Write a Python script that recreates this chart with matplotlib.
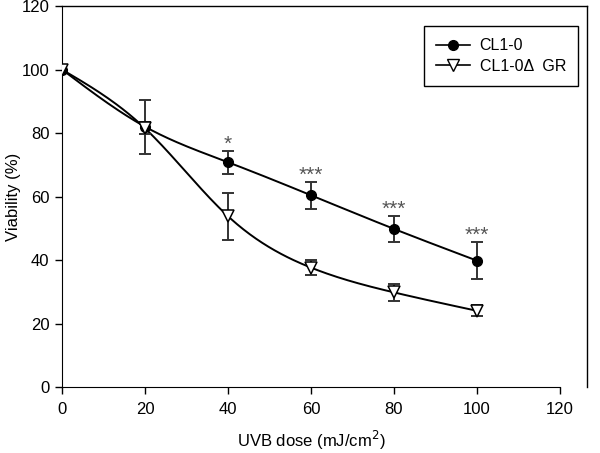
import numpy as np
import matplotlib.pyplot as plt
from matplotlib.lines import Line2D

plt.rcParams['font.family'] = ['Liberation Sans', 'DejaVu Sans']

# data
dose = [0, 20, 40, 60, 80, 100]
cl10 = [100, 82, 70.8, 60.4, 49.8, 39.8]
cl10_err = [0, 8.5, 3.6, 4.2, 4.0, 5.8]
gr = [100, 81.5, 53.8, 37.6, 29.8, 24.0]
gr_err = [0, 1.9, 7.4, 2.4, 2.6, 1.7]
stars = ['', '', '*', '***', '***', '***']


def spline(x, y, n=200):
    # natural cubic spline, only used to draw the smooth connecting line
    x = np.asarray(x, float)
    y = np.asarray(y, float)
    k = len(x)
    h = np.diff(x)
    A = np.zeros((k, k))
    b = np.zeros(k)
    A[0, 0] = A[-1, -1] = 1
    for i in range(1, k - 1):
        A[i, i - 1] = h[i - 1]
        A[i, i] = 2 * (h[i - 1] + h[i])
        A[i, i + 1] = h[i]
        b[i] = 6 * ((y[i + 1] - y[i]) / h[i] - (y[i] - y[i - 1]) / h[i - 1])
    M = np.linalg.solve(A, b)
    xs = np.linspace(x[0], x[-1], n)
    j = np.clip(np.searchsorted(x, xs) - 1, 0, k - 2)
    t0 = x[j + 1] - xs
    t1 = xs - x[j]
    hj = h[j]
    ys = (M[j] * t0**3 + M[j + 1] * t1**3) / (6 * hj) \
        + (y[j] / hj - M[j] * hj / 6) * t0 + (y[j + 1] / hj - M[j + 1] * hj / 6) * t1
    return xs, ys


fig = plt.figure(figsize=(6, 4.53), dpi=100)
ax = fig.add_axes([0.1033, 0.1457, 0.83, 0.841])

fz = 12

xs, ys = spline(dose, cl10)
ax.plot(xs, ys, color='k', lw=1.4, zorder=2)
xs, ys = spline(dose, gr)
ax.plot(xs, ys, color='k', lw=1.4, zorder=2)

ax.errorbar(dose, cl10, yerr=cl10_err, fmt='none', ecolor='#333333',
            elinewidth=1.4, capsize=4, capthick=1.4, zorder=3)
ax.errorbar(dose, gr, yerr=gr_err, fmt='none', ecolor='#333333',
            elinewidth=1.4, capsize=4, capthick=1.4, zorder=3)
ax.plot(dose, cl10, 'o', color='k', ms=7, zorder=4)
ax.plot(dose, gr, 'v', mfc='white', mec='k', mew=1.1, ms=8.5, zorder=4)

for x, y, e, s in zip(dose, cl10, cl10_err, stars):
    if s:
        ax.text(x, y + e + 0.3, s, ha='center', va='baseline', fontsize=15,
                color='#555555')

ax.set_xlim(0, 120)
ax.set_ylim(0, 120)
ax.set_xticks(np.arange(0, 121, 20))
ax.set_yticks(np.arange(0, 121, 20))
ax.tick_params(direction='out', length=5, width=1, labelsize=fz)
ax.tick_params(axis='y', pad=4)
ax.tick_params(axis='x', pad=6)
ax.spines['top'].set_visible(False)
ax.spines['right'].set_visible(False)
ax.set_xlabel('UVB dose (mJ/cm$^2$)', fontsize=fz)
ax.set_ylabel('Viability (%)', fontsize=fz)
ax.xaxis.set_label_coords(0.5, -0.11)
ax.yaxis.set_label_coords(-0.082, 0.5)

leg_h = [Line2D([], [], color='k', marker='o', ms=7, lw=1.2),
         Line2D([], [], color='k', marker='v', mfc='white', ms=8.5, lw=1.2)]
leg = ax.legend(leg_h, ['CL1-0', 'CL1-0\u0394  GR'], loc='upper right',
                bbox_to_anchor=(1.036, 0.947), fontsize=11.5,
                fancybox=False, edgecolor='k', framealpha=1,
                handlelength=2.1, handletextpad=0.6, borderpad=0.75,
                labelspacing=0.35, borderaxespad=0)
leg.get_frame().set_linewidth(1)

# outer frame on top and right, as in the original figure
fig.add_artist(Line2D([0.1033, 0.978], [0.9868, 0.9868], color='k', lw=1))
fig.add_artist(Line2D([0.978, 0.978], [0.9868, 0.1457], color='k', lw=1))

plt.savefig('out.png')
